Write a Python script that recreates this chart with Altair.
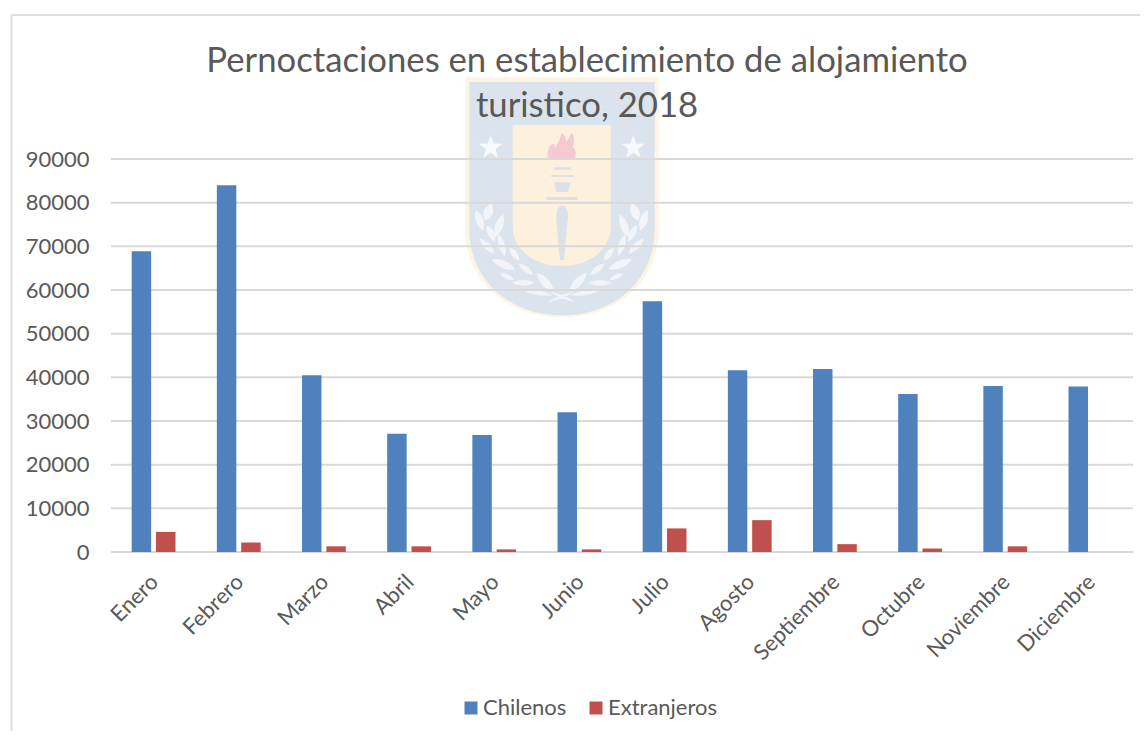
import math
import altair as alt
import pandas as pd

meses = ["Enero", "Febrero", "Marzo", "Abril", "Mayo", "Junio", "Julio", "Agosto",
         "Septiembre", "Octubre", "Noviembre", "Diciembre"]
chilenos = [68900, 84000, 40500, 27100, 26800, 32000, 57400, 41600, 41900, 36200, 38000, 37900]
extranjeros = [4600, 2200, 1300, 1300, 600, 600, 5400, 7300, 1800, 800, 1300, 0]
series = ["Chilenos", "Extranjeros"]
colores = ["#4f81bd", "#c0504d"]
ticks = [0, 10000, 20000, 30000, 40000, 50000, 60000, 70000, 80000, 90000]

FONT = "Lato"
GRAY = "#595959"
W, H = 1022, 393
LEFT, TOP = 103, 151
OX, OY = 8 + LEFT, 8 + TOP

rows = []
for m, c, e in zip(meses, chilenos, extranjeros):
    rows.append({"mes": m, "serie": "Chilenos", "valor": c})
    rows.append({"mes": m, "serie": "Extranjeros", "valor": e})
df = pd.DataFrame(rows)

# ---- faint crest watermark, drawn as SVG symbol paths (decoration only) ----
CX, CY, HALF = 562, 197, 125   # page px centre and half-extent of symbol box


def u(zx, zy):
    # zoom-crop coordinates of the crest -> symbol unit coordinates
    px, py = 440 + zx / 3, 60 + zy / 3
    return f"{(px - CX) / HALF:.4f} {(py - CY) / HALF:.4f}"


def poly(pts):
    return "M" + "L".join(u(*p) for p in pts) + "Z"


def leaf(a, b, w):
    mx, my = (a[0] + b[0]) / 2, (a[1] + b[1]) / 2
    dx, dy = b[0] - a[0], b[1] - a[1]
    n = math.hypot(dx, dy) or 1
    nx, ny = -dy / n * w, dx / n * w
    return (f"M{u(*a)}Q{u(mx + nx, my + ny)} {u(*b)}"
            f"Q{u(mx - nx, my - ny)} {u(*a)}Z")


def star(cx, cy, r):
    pts = []
    for i in range(10):
        rad = r if i % 2 == 0 else r * 0.42
        ang = -math.pi / 2 + i * math.pi / 5
        pts.append((cx + rad * math.cos(ang), cy + rad * math.sin(ang)))
    return poly(pts)


def shield(x0, x1, y0, ys, yb):
    xm = (x0 + x1) / 2
    return (f"M{u(x0, y0)}L{u(x1, y0)}L{u(x1, ys)}"
            f"C{u(x1, ys + (yb - ys) * 0.55)} {u(xm + (x1 - x0) * 0.3, yb)} {u(xm, yb)}"
            f"C{u(xm - (x1 - x0) * 0.3, yb)} {u(x0, ys + (yb - ys) * 0.55)} {u(x0, ys)}Z")


leaf_pairs = [((155, 430), (135, 482), 28), ((108, 450), (130, 512), 24), ((190, 462), (165, 532), 24),
              ((140, 495), (165, 545), 20), ((175, 522), (195, 588), 20), ((118, 535), (165, 582), 20),
              ((208, 562), (238, 602), 18), ((155, 598), (225, 628), 24), ((235, 610), (280, 645), 18),
              ((180, 640), (222, 660), 14), ((215, 668), (285, 668), 18), ((290, 638), (342, 695), 24),
              ((245, 690), (340, 706), 14), ((322, 726), (402, 695), 9)]
leaves = "".join(leaf(a, b, w) + leaf((730 - a[0], a[1]), (730 - b[0], b[1]), w) for a, b, w in leaf_pairs)
stars = star(152, 263, 37) + star(580, 263, 37)
small_stars = "".join(star(x, 145, 20) for x in (150, 258, 365, 475, 585))
flame = ("M" + u(325, 298) + "L" + u(405, 298) + "Q" + u(412, 270) + " " + u(398, 262)
         + "Q" + u(408, 235) + " " + u(395, 218) + "Q" + u(385, 240) + " " + u(378, 245)
         + "Q" + u(378, 225) + " " + u(365, 220) + "Q" + u(358, 245) + " " + u(345, 265)
         + "Q" + u(345, 245) + " " + u(332, 255) + "Q" + u(318, 275) + " " + u(325, 298) + "Z")
torch = (poly([(342, 322), (392, 322), (392, 329), (342, 329)])
         + poly([(333, 345), (400, 345), (400, 351), (333, 351)])
         + poly([(342, 367), (392, 367), (384, 396), (350, 396)])
         + poly([(320, 411), (412, 411), (412, 420), (320, 420)])
         + f"M{u(366, 436)}Q{u(390, 440)} {u(382, 490)}L{u(372, 600)}L{u(360, 600)}L{u(350, 490)}Q{u(344, 440)} {u(366, 436)}Z")

crest_parts = [
    (shield(76, 656, 52, 510, 772), "#fdf4e3"),
    (shield(88, 644, 66, 510, 766), "#dbe3ec"),
    (shield(218, 512, 195, 500, 618), "#fdf0dc"),
    (small_stars, "#e3e9ef"),
    (stars, "#f7f9fb"),
    (flame, "#f6c8d2"),
    (torch, "#dbe1e8"),
    (leaves, "#f2f4f7"),
]
crest = [
    alt.Chart(alt.Data(values=[{}])).mark_point(
        shape=path, size=(2 * HALF) ** 2, filled=True, color=col, opacity=1, strokeWidth=0
    ).encode(x=alt.value(CX - OX), y=alt.value(CY - OY))
    for path, col in crest_parts
]

# ---- outer frame of the embedded picture ----
frame_top = alt.Chart(alt.Data(values=[{}])).mark_rule(color="#dedede", strokeWidth=2).encode(
    x=alt.value(11.5 - OX), x2=alt.value(1140 - OX), y=alt.value(15 - OY))
frame_left = alt.Chart(alt.Data(values=[{}])).mark_rule(color="#dedede", strokeWidth=2).encode(
    x=alt.value(11.5 - OX), y=alt.value(15 - OY), y2=alt.value(731 - OY))

y_scale = alt.Scale(domain=[0, 90000], nice=False, zero=True)
y_axis = alt.Axis(values=ticks, labelFont=FONT, labelFontSize=22, labelColor=GRAY,
                  labelPadding=22, ticks=False, domain=False, grid=False, format="d")

grid = alt.Chart(pd.DataFrame({"t": ticks})).mark_rule(color="#d9d9d9", strokeWidth=2).encode(
    y=alt.Y("t:Q", scale=y_scale, axis=y_axis, title=None))

bars = alt.Chart(df).mark_bar().encode(
    x=alt.X("mes:N", sort=meses, title=None,
            scale=alt.Scale(paddingInner=0, paddingOuter=0),
            axis=alt.Axis(labelAngle=-45, labelFont=FONT, labelFontSize=22, labelColor=GRAY,
                          labelPadding=19, labelOffset=-6, ticks=False, domain=False, grid=False,
                          labelLimit=300)),
    xOffset=alt.XOffset("serie:N", sort=series,
                        scale=alt.Scale(paddingInner=0.2, paddingOuter=0.85)),
    y=alt.Y("valor:Q", scale=y_scale, title=None, axis=y_axis),
    color=alt.Color("serie:N", sort=series, title=None,
                    scale=alt.Scale(domain=series, range=colores),
                    legend=alt.Legend(orient="none", legendX=460 - OX, legendY=697 - OY,
                                      direction="horizontal", symbolType="square", symbolSize=169,
                                      symbolStrokeWidth=0, labelFont=FONT, labelFontSize=22,
                                      labelColor=GRAY, columnPadding=18, labelOffset=1,
                                      padding=0)),
)

chart = alt.layer(frame_top, frame_left, *crest, grid, bars).properties(
    width=W, height=H,
    autosize=alt.AutoSizeParams(type="none"),
    padding={"left": LEFT, "top": TOP, "right": 1132 - LEFT - W, "bottom": 723 - TOP - H},
    title=alt.TitleParams(
        text=["Pernoctaciones en establecimiento de alojamiento", "turistico, 2018"],
        font=FONT, fontSize=34.7, fontWeight="normal", color=GRAY, anchor="middle",
        dx=-35, offset=-111, lineHeight=45, zindex=1),
    background="#ffffff",
).configure_view(stroke=None)

chart.save("out.html", embed_options={"renderer": "svg", "actions": False})
